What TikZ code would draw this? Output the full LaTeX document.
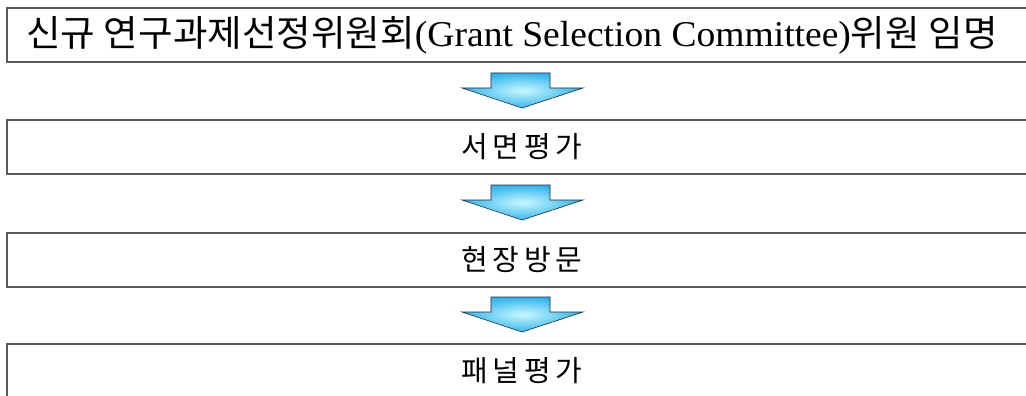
\documentclass[tikz,border=0pt]{standalone}
\usepackage{fontspec}
\setmainfont{Liberation Serif}
\newfontfamily\cjk{Noto Sans CJK KR}
\usetikzlibrary{shadings}
\definecolor{boxline}{RGB}{90,90,90}
\definecolor{arrowin}{RGB}{200,248,255}
\definecolor{arrowout}{RGB}{50,180,235}
\definecolor{arrowline}{RGB}{20,40,80}
\tikzset{
  stepbox/.style={draw=boxline, line width=1.2pt},
  downarrow/.style={inner color=arrowin, outer color=arrowout, draw=arrowline, line width=0.6pt, line join=miter},
  label/.style={inner sep=0pt, anchor=center, text=black}
}
\begin{document}
\begin{tikzpicture}[x=1pt,y=-1pt]
\useasboundingbox (0,0) rectangle (1026,396);
\clip (0,0) rectangle (1026,396);
% boxes
\draw[stepbox] (7,8) rectangle (1040,62);
\draw[stepbox] (7,120) rectangle (1040,174);
\draw[stepbox] (7,233) rectangle (1040,287);
\draw[stepbox] (7,344) rectangle (1040,420);
\coordinate (b1) at (512,35);
\coordinate (b2) at (522,147);
\coordinate (b3) at (522,260);
\coordinate (b4) at (522,371);
\node[label] (t1) at (b1) {\resizebox{971pt}{30pt}{\cjk 신규 연구과제선정위원회\rmfamily(Grant Selection Committee)\cjk 위원 임명}};
\node[label] (t2) at (b2) {\fontsize{29pt}{30pt}\selectfont\cjk 서\,면\,평\,가};
\node[label] (t3) at (b3) {\fontsize{29pt}{30pt}\selectfont\cjk 현\,장\,방\,문};
\node[label] (t4) at (b4) {\fontsize{29pt}{30pt}\selectfont\cjk 패\,널\,평\,가};
% arrows
\foreach \dy/\nm in {0/a1, 112/a2, 224/a3} {
  \begin{scope}[yshift=-\dy pt]
  \path[downarrow] (491,73) -- (550,73) -- (550,88) -- (583,88) -- (522,108) -- (462,88) -- (491,88) -- cycle;
  \end{scope}
}
\end{tikzpicture}
\end{document}
